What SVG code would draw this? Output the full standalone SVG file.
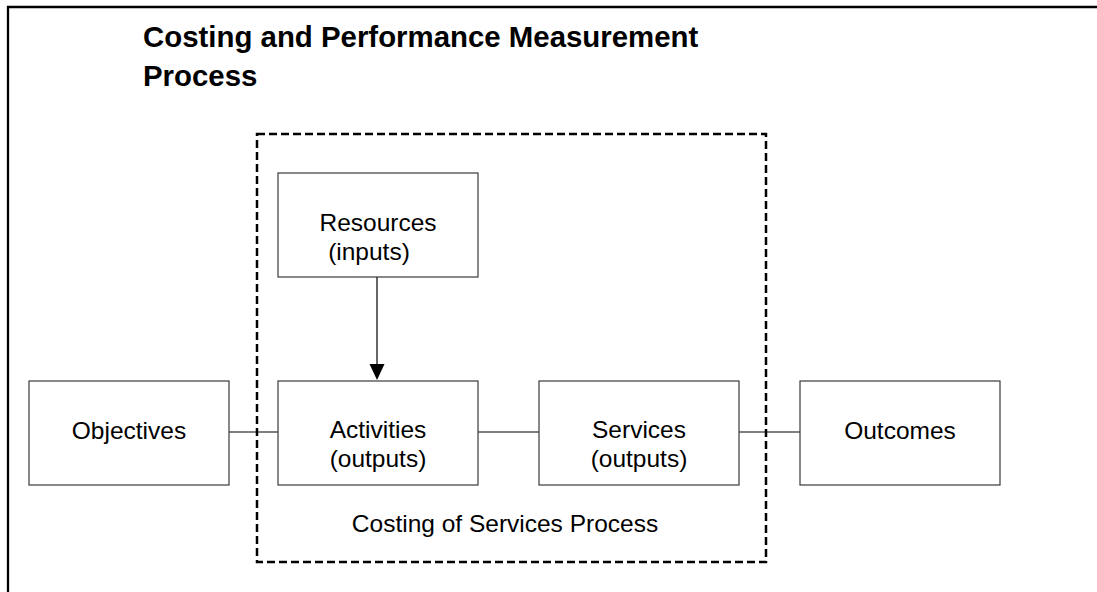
<svg xmlns="http://www.w3.org/2000/svg" width="1097" height="592" viewBox="0 0 1097 592">
  <style>
    .frame { fill: none; stroke: #000; stroke-width: 2.3; }
    .scope { fill: none; stroke: #000; stroke-width: 2.5; stroke-dasharray: 8 4; }
    .box { fill: #fff; stroke: #3a3a3a; stroke-width: 1.2; }
    .link { fill: none; stroke: #000; stroke-width: 1.2; }
    .title { font-family: "Liberation Sans", Arial, sans-serif; font-weight: bold; font-size: 29.4px; fill: #000; }
    .label { font-family: "Liberation Sans", Arial, sans-serif; font-size: 24.5px; fill: #000; text-anchor: middle; }
  </style>

  <rect width="1097" height="592" fill="#fff"/>

  <!-- page frame: only top and left edges fall inside the view -->
  <path class="frame" d="M8,600 V7 H1100"/>

  <text class="title" x="143" y="47">Costing and Performance Measurement</text>
  <text class="title" x="143" y="86">Process</text>

  <!-- dashed scope of the costing process -->
  <g id="costing-scope">
    <rect class="scope" x="257" y="134" width="509" height="428"/>
    <text class="label" x="505" y="532">Costing of Services Process</text>
  </g>

  <g id="connectors">
    <line class="link" x1="229" y1="432" x2="278" y2="432"/>
    <line class="link" x1="478" y1="432" x2="539" y2="432"/>
    <line class="link" x1="739" y1="432" x2="800" y2="432"/>
    <line class="link" x1="377" y1="277" x2="377" y2="364"/>
    <path d="M369.5,364 L384.5,364 L377,380 Z" fill="#000"/>
  </g>

  <g id="resources">
    <rect class="box" x="278" y="173" width="200" height="104"/>
    <text class="label" x="378" y="231">Resources</text>
    <text class="label" x="369" y="260">(inputs)</text>
  </g>

  <g id="objectives">
    <rect class="box" x="29" y="381" width="200" height="104"/>
    <text class="label" x="129" y="439">Objectives</text>
  </g>

  <g id="activities">
    <rect class="box" x="278" y="381" width="200" height="104"/>
    <text class="label" x="378" y="438">Activities</text>
    <text class="label" x="378" y="467">(outputs)</text>
  </g>

  <g id="services">
    <rect class="box" x="539" y="381" width="200" height="104"/>
    <text class="label" x="639" y="438">Services</text>
    <text class="label" x="639" y="467">(outputs)</text>
  </g>

  <g id="outcomes">
    <rect class="box" x="800" y="381" width="200" height="104"/>
    <text class="label" x="900" y="439">Outcomes</text>
  </g>
</svg>
